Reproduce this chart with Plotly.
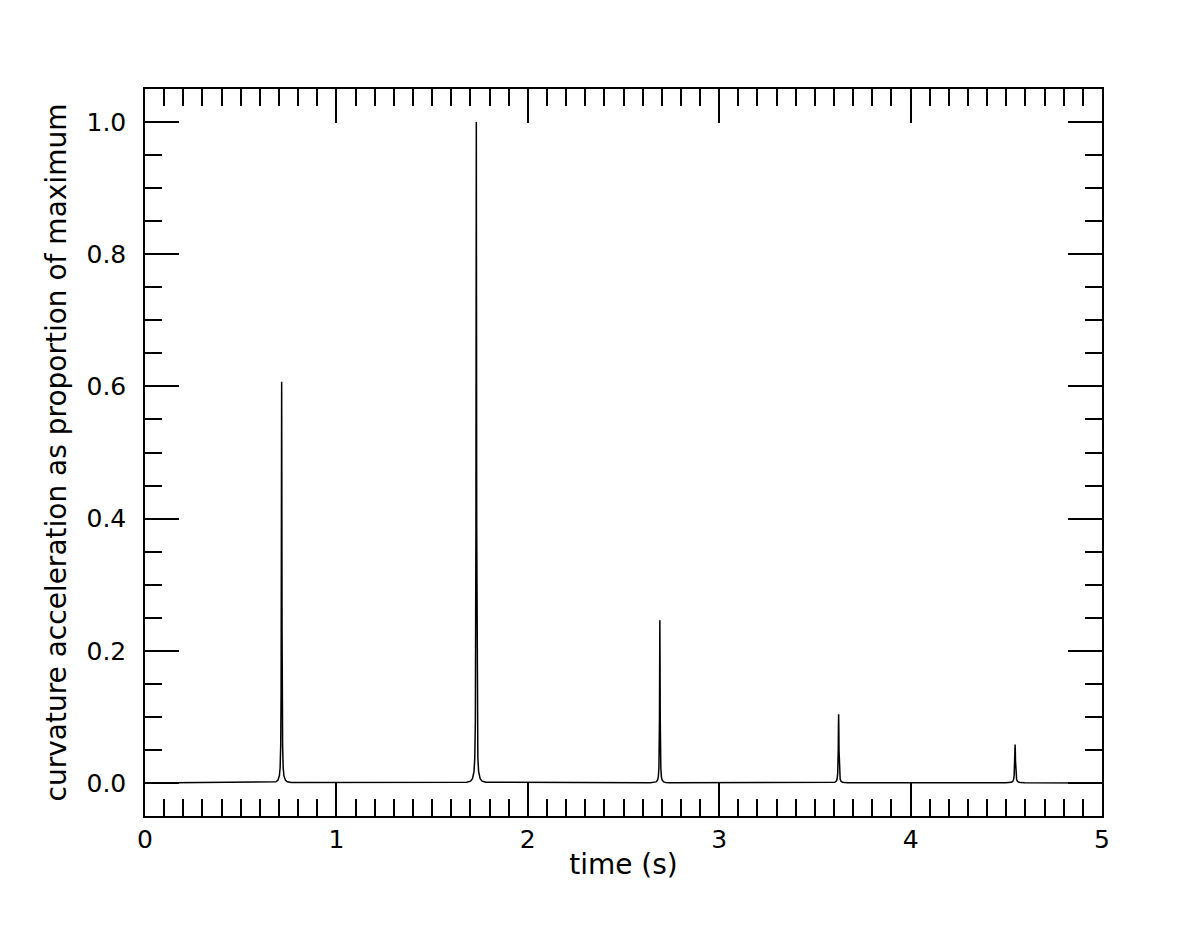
import plotly.graph_objects as go

# time samples (s) and curvature acceleration, normalised to the largest peak
time_s = [
    0.0,
    0.664, 0.684, 0.694, 0.702, 0.706, 0.709, 0.711, 0.712, 0.713, 0.714,
    0.715, 0.716, 0.717, 0.719, 0.722, 0.726, 0.734, 0.744, 0.764,
    1.681, 1.701, 1.711, 1.719, 1.723, 1.726, 1.728, 1.729, 1.730, 1.731,
    1.732, 1.733, 1.734, 1.736, 1.739, 1.743, 1.751, 1.761, 1.781,
    2.640, 2.660, 2.670, 2.678, 2.682, 2.685, 2.687, 2.688, 2.689, 2.690,
    2.691, 2.692, 2.693, 2.695, 2.698, 2.702, 2.710, 2.720, 2.740,
    3.574, 3.594, 3.604, 3.612, 3.616, 3.619, 3.621, 3.622, 3.623, 3.624,
    3.625, 3.626, 3.627, 3.629, 3.632, 3.636, 3.644, 3.654, 3.674,
    4.496, 4.516, 4.526, 4.534, 4.538, 4.541, 4.543, 4.544, 4.545, 4.546,
    4.547, 4.548, 4.549, 4.551, 4.554, 4.558, 4.566, 4.576, 4.596,
    5.0,
]
curv_acc = [
    0.0,
    0.0006, 0.0017, 0.0039, 0.0106, 0.023, 0.056, 0.134, 0.237, 0.437, 0.607,
    0.437, 0.237, 0.134, 0.056, 0.023, 0.0106, 0.0039, 0.0017, 0.0006,
    0.001, 0.0028, 0.0064, 0.0175, 0.038, 0.093, 0.22, 0.39, 0.72, 1.0,
    0.72, 0.39, 0.22, 0.093, 0.038, 0.0175, 0.0064, 0.0028, 0.001,
    0.0002, 0.0007, 0.0016, 0.0043, 0.0093, 0.0229, 0.054, 0.096, 0.177, 0.246,
    0.177, 0.096, 0.054, 0.0229, 0.0093, 0.0043, 0.0016, 0.0007, 0.0002,
    0.0002, 0.0005, 0.0011, 0.0028, 0.006, 0.014, 0.030, 0.050, 0.082, 0.104,
    0.082, 0.050, 0.030, 0.014, 0.006, 0.0028, 0.0011, 0.0005, 0.0002,
    0.0002, 0.0005, 0.001, 0.0025, 0.005, 0.011, 0.022, 0.034, 0.050, 0.058,
    0.050, 0.034, 0.022, 0.011, 0.005, 0.0025, 0.001, 0.0005, 0.0002,
    0.0,
]

x_ticks = [0, 1, 2, 3, 4, 5]
y_ticks = [0.0, 0.2, 0.4, 0.6, 0.8, 1.0]

fig = go.Figure()
fig.add_trace(go.Scatter(
    x=time_s, y=curv_acc,
    mode='lines',
    line=dict(color='black', width=1.5),
    showlegend=False,
))

axis_common = dict(
    showline=True, linecolor='black', linewidth=1.5,
    mirror='allticks',
    ticks='inside', ticklen=34, tickwidth=1.5, tickcolor='black',
    showgrid=False, zeroline=False,
    tickfont=dict(family='DejaVu Sans', size=25, color='black'),
    title_font=dict(family='DejaVu Sans', size=28, color='black'),
)

fig.update_xaxes(
    **axis_common,
    range=[0, 5],
    tickvals=x_ticks,
    ticktext=[str(v) for v in x_ticks],
    minor=dict(dtick=0.1, tick0=0, ticks='inside', ticklen=17, tickwidth=1.5,
               tickcolor='black', showgrid=False),
    title_text='time (s)',
    title_standoff=2,
)
fig.update_yaxes(
    **axis_common,
    range=[-0.05, 1.05],
    tickvals=y_ticks,
    ticktext=['%.1f' % v for v in y_ticks],
    minor=dict(dtick=0.05, tick0=0, ticks='inside', ticklen=17, tickwidth=1.5,
               tickcolor='black', showgrid=False),
    ticklabelstandoff=12,
    title_text='curvature acceleration as proportion of maximum',
    title_standoff=12,
)

# the page adds a small body margin, so the figure is shifted back by it
fig.update_layout(
    width=1177, height=925,
    margin=dict(l=137, r=83, t=81, b=117),
    plot_bgcolor='white', paper_bgcolor='white',
    font=dict(family='DejaVu Sans', color='black'),
)

fig.write_html("out.html")
